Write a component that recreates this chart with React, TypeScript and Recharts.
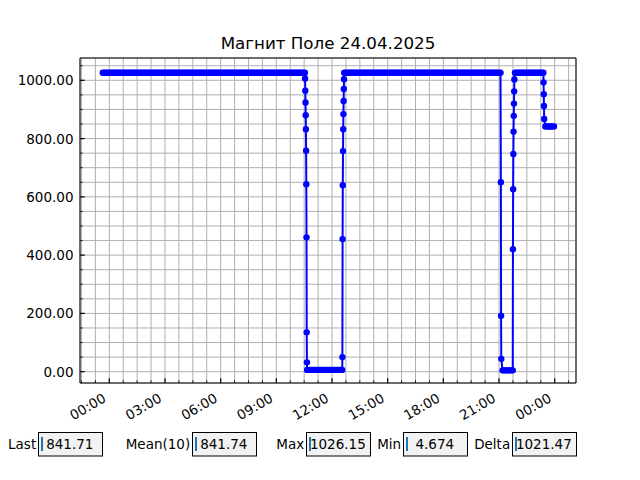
import { LineChart, Line, XAxis, YAxis, CartesianGrid } from 'recharts'

// Hours are counted from 24.04.2025 00:00.
// Steady stretches of the field: start hour, end hour, level.
const runStart = [-0.35, 10.66, 12.66, 21.19, 21.86, 23.5]
const runEnd = [10.54, 12.55, 21.08, 21.74, 23.39, 23.96]
const runLevel = [1025.9, 6.2, 1026.15, 4.674, 1025.9, 841.71]

// Ramps between the stretches, logged about every 40 s.
const rampStart = [10.55, 12.56, 21.1, 21.75, 23.4]
const rampValues = [
    [1006, 964, 924, 880, 832, 758, 643, 461, 135, 32],
    [50, 455, 640, 757, 832, 884, 929, 970, 1004],
    [650, 192, 44],
    [420, 626, 747, 824, 878, 920, 962, 1003],
    [993, 952, 912, 867],
]

const majorHours = [0, 3, 6, 9, 12, 15, 18, 21, 24]
const hourLabels = ['00:00', '03:00', '06:00', '09:00', '12:00', '15:00', '18:00', '21:00', '00:00']
const minorHourTicks = [
    -1.5, -0.75, 0, 0.75, 1.5, 2.25, 3, 3.75, 4.5, 5.25, 6, 6.75, 7.5, 8.25, 9, 9.75, 10.5,
    11.25, 12, 12.75, 13.5, 14.25, 15, 15.75, 16.5, 17.25, 18, 18.75, 19.5, 20.25, 21, 21.75,
    22.5, 23.25, 24, 24.75,
]
const fieldTicks = [
    0, 50, 100, 150, 200, 250, 300, 350, 400, 450, 500, 550, 600, 650, 700, 750, 800, 850, 900,
    950, 1000, 1050,
]
const fieldLabelTicks = [0, 200, 400, 600, 800, 1000]

const statNames = ['Last', 'Mean(10)', 'Max', 'Min', 'Delta']
const statTexts = [' 841.71', ' 841.74', '1026.15', '  4.674', '1021.47']

const PLATEAU_STEP = 1 / 12 // 5 min
const RAMP_STEP = 0.011
const X_DOMAIN = [-1.579, 25.148]
const Y_DOMAIN = [-38.8, 1076.5]
const FONT = 'DejaVu Sans'
const BOX_LEFT = [38.5, 192.5, 306.5, 403.5, 512.5]

type Sample = { t: number; v: number }

const samples: Sample[] = []
runStart.forEach((start, i) => {
    const n = Math.max(1, Math.round((runEnd[i] - start) / PLATEAU_STEP))
    for (let k = 0; k <= n; k++) {
        samples.push({ t: start + ((runEnd[i] - start) * k) / n, v: runLevel[i] })
    }
    const ramp = rampValues[i]
    if (ramp) {
        ramp.forEach((v, k) => samples.push({ t: rampStart[i] + k * RAMP_STEP, v }))
    }
})

function HourTick({ x, y, payload }: any) {
    const idx = majorHours.indexOf(payload.value)
    const major = idx >= 0
    const lx = x - 2.3
    const ly = y + 18
    return (
        <g>
            <line
                x1={x}
                x2={x}
                y1={y}
                y2={y - (major ? 4.8 : 2.8)}
                stroke="#000"
                strokeWidth={major ? 1.2 : 0.8}
            />
            {major && (
                <text
                    x={lx}
                    y={ly}
                    transform={`rotate(-30 ${lx} ${ly})`}
                    textAnchor="end"
                    fontFamily={FONT}
                    fontSize={13.5}
                    fill="#000"
                >
                    {hourLabels[idx]}
                </text>
            )}
        </g>
    )
}

function FieldTick({ x, y, payload }: any) {
    const major = fieldLabelTicks.includes(payload.value)
    return (
        <g>
            <line
                x1={x}
                x2={x + (major ? 4.8 : 2.8)}
                y1={y}
                y2={y}
                stroke="#000"
                strokeWidth={major ? 1.2 : 0.8}
            />
            {major && (
                <text
                    x={x - 6.5}
                    y={y + 5}
                    textAnchor="end"
                    fontFamily={FONT}
                    fontSize={13.5}
                    fill="#000"
                >
                    {payload.value.toFixed(2)}
                </text>
            )}
        </g>
    )
}

export default function App() {
    return (
        <div
            style={{
                position: 'absolute',
                left: 0,
                top: 0,
                width: 640,
                height: 480,
                background: '#fff',
            }}
        >
            <LineChart
                width={640}
                height={480}
                data={samples}
                margin={{ top: 0, right: 0, bottom: 0, left: 0 }}
            >
                <CartesianGrid stroke="#b0b0b0" strokeWidth={1} />
                <XAxis
                    dataKey="t"
                    type="number"
                    domain={X_DOMAIN}
                    allowDataOverflow
                    ticks={minorHourTicks}
                    interval={0}
                    tick={<HourTick />}
                    tickLine={false}
                    tickSize={0}
                    tickMargin={0}
                    height={97}
                    axisLine={{ stroke: '#000', strokeWidth: 1 }}
                />
                <XAxis
                    xAxisId="top"
                    orientation="top"
                    type="number"
                    domain={[0, 1]}
                    tick={false}
                    tickLine={false}
                    height={58}
                    axisLine={{ stroke: '#000', strokeWidth: 1 }}
                />
                <YAxis
                    type="number"
                    domain={Y_DOMAIN}
                    allowDataOverflow
                    ticks={fieldTicks}
                    interval={0}
                    tick={<FieldTick />}
                    tickLine={false}
                    tickSize={0}
                    tickMargin={0}
                    width={80}
                    axisLine={{ stroke: '#000', strokeWidth: 1 }}
                />
                <YAxis
                    yAxisId="right"
                    orientation="right"
                    type="number"
                    domain={[0, 1]}
                    tick={false}
                    tickLine={false}
                    width={64}
                    axisLine={{ stroke: '#000', strokeWidth: 1 }}
                />
                <Line
                    dataKey="v"
                    type="linear"
                    stroke="#0000ff"
                    strokeWidth={2}
                    dot={{ r: 3.2, fill: '#0000ff', stroke: 'none' }}
                    activeDot={false}
                    isAnimationActive={false}
                />
            </LineChart>
            <svg
                width={640}
                height={480}
                style={{ position: 'absolute', left: 0, top: 0, pointerEvents: 'none' }}
            >
                <text
                    x={328}
                    y={49}
                    textAnchor="middle"
                    fontFamily={FONT}
                    fontSize={16.7}
                    fill="#000"
                >
                    Магнит Поле 24.04.2025
                </text>
                {statNames.map((name, i) => {
                    const left = BOX_LEFT[i]
                    const cursorX = left + 3.5
                    return (
                        <g key={name}>
                            <rect
                                x={left}
                                y={432.5}
                                width={64}
                                height={23.5}
                                fill="#f2f2f2"
                                stroke="#000"
                                strokeWidth={1}
                            />
                            <line
                                x1={cursorX}
                                x2={cursorX}
                                y1={437}
                                y2={451}
                                stroke="#1f77b4"
                                strokeWidth={2}
                            />
                            <text
                                x={left + 3.4}
                                y={448.5}
                                fontFamily={FONT}
                                fontSize={13.5}
                                fill="#000"
                                style={{ whiteSpace: 'pre' }}
                            >
                                {statTexts[i]}
                            </text>
                            <text
                                x={left - 2.3}
                                y={448.5}
                                textAnchor="end"
                                fontFamily={FONT}
                                fontSize={13.5}
                                fill="#000"
                            >
                                {name}
                            </text>
                        </g>
                    )
                })}
            </svg>
        </div>
    )
}
